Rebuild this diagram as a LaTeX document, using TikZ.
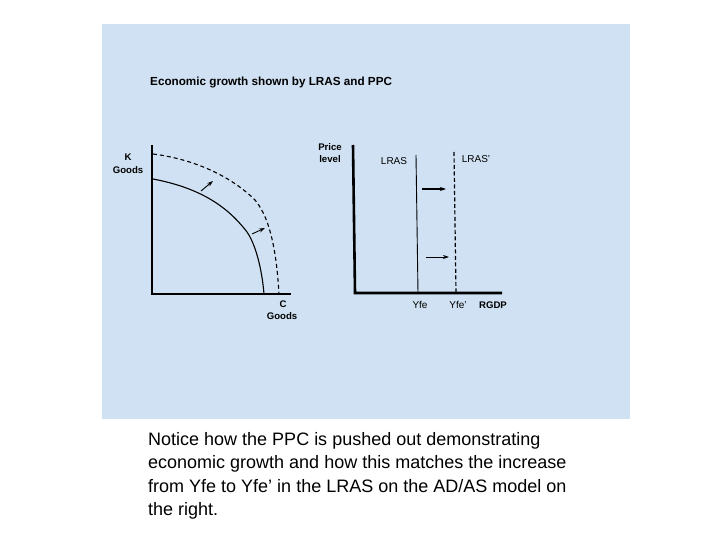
\documentclass[tikz,border=0pt]{standalone}
\usepackage{fontspec}
\setmainfont{Liberation Sans}
\usetikzlibrary{arrows.meta}
\definecolor{panel}{RGB}{207,225,242}
\begin{document}
\begin{tikzpicture}[x=1pt,y=-1pt,
  axis/.style={line width=2.6pt},
  curve/.style={line width=1.1pt},
  movearrow/.style={-{Stealth[length=6pt,width=4pt]},line width=0.9pt},
  lab/.style={font=\fontsize{10}{11}\selectfont, inner sep=0pt, align=center},
  blab/.style={lab, font=\fontsize{9.6}{11}\selectfont\bfseries}]
\useasboundingbox (0,0) rectangle (720,540);
\fill[panel] (102,24) rectangle (630,419);
\node[font=\fontsize{11.7}{13}\selectfont\bfseries, anchor=west, inner sep=0pt] (title) at (150,83) {Economic growth shown by LRAS and PPC};
% left PPC graph
\coordinate (kt) at (152,145);
\coordinate (ko) at (152,294);
\coordinate (ce) at (291,294);
\draw[axis] (kt) -- (ko) -- (ce);
\node[blab] (k) at (128,157) {K};
\node[blab] (kg) at (128,170) {Goods};
\node[blab] (c) at (283,304) {C};
\node[blab] (cg) at (282,316) {Goods};
\draw[curve] (153,179) .. controls (195,187) and (225,203) .. (247,232)
  .. controls (256,245) and (262,270) .. (264,294);
\draw[curve, dashed, dash pattern=on 4pt off 3pt] (153,154) .. controls (200,160) and (235,180) .. (255,200)
  .. controls (272,220) and (277,260) .. (279,294);
\coordinate (a1s) at (201,191);
\coordinate (a1e) at (213,181);
\coordinate (a2s) at (252,234);
\coordinate (a2e) at (265,228);
\draw[movearrow] (a1s) -- (a1e);
\draw[movearrow] (a2s) -- (a2e);
% right AD/AS graph
\coordinate (pt) at (353,145);
\coordinate (po) at (355,293);
\coordinate (re) at (502,293);
\draw[axis] (pt) -- (po) -- (re);
\node[blab] (price) at (330,147) {Price};
\node[blab] (level) at (330,159) {level};
\coordinate (l1t) at (416,155);
\coordinate (l1b) at (418,293);
\draw[line width=0.9pt] (l1t) -- (l1b);
\coordinate (l2t) at (454,152);
\coordinate (l2b) at (456,293);
\draw[line width=1.2pt, dashed, dash pattern=on 4pt off 2.5pt] (l2t) -- (l2b);
\node[lab] (lras) at (394,161) {LRAS};
\node[lab] (lras2) at (476,159) {LRAS'};
\coordinate (b1s) at (422,189);
\coordinate (b1e) at (446,189);
\coordinate (b2s) at (426,257);
\coordinate (b2e) at (449,257);
\draw[movearrow, line width=1.5pt] (b1s) -- (b1e);
\draw[movearrow] (b2s) -- (b2e);
\node[lab] (yfe) at (420,305) {Yfe};
\node[lab] (yfe2) at (458,305) {Yfe'};
\node[blab] (rgdp) at (493,305) {RGDP};
% caption
\node[anchor=north west, align=left, inner sep=0pt, font=\fontsize{18}{23.5}\selectfont] (cap) at (148,432)
 {Notice how the PPC is pushed out demonstrating\\economic growth and how this matches the increase\\from Yfe to Yfe’ in the LRAS on the AD/AS model on\\the right.};
\end{tikzpicture}
\end{document}
